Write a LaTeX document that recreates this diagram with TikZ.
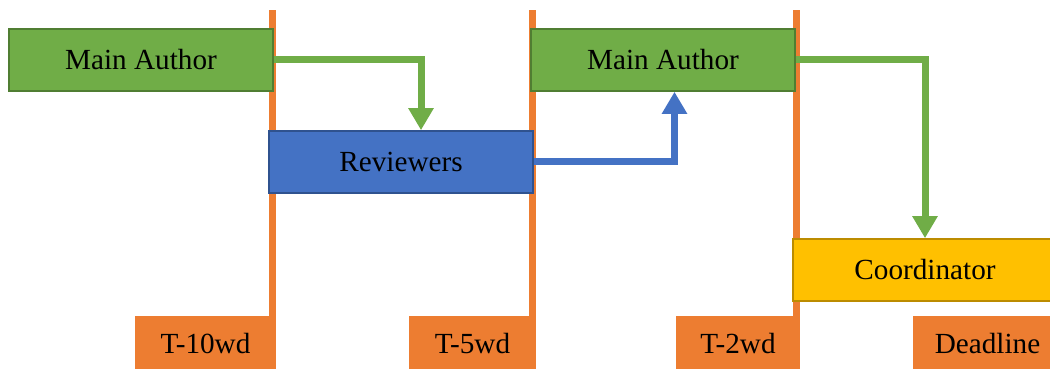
\documentclass[tikz,border=0pt]{standalone}
\usepackage{fontspec}
\setmainfont{Liberation Serif}
\usetikzlibrary{arrows.meta}

\definecolor{mgreen}{HTML}{70AD47}
\definecolor{mgreendark}{HTML}{507E32}
\definecolor{mblue}{HTML}{4472C4}
\definecolor{mbluedark}{HTML}{2F528F}
\definecolor{myellow}{HTML}{FFC000}
\definecolor{myellowdark}{HTML}{BC8C00}
\definecolor{morange}{HTML}{ED7D31}

\tikzset{
  box/.style={rectangle, line width=0.8pt, minimum width=132pt, minimum height=31pt, inner sep=0pt, font=\fontsize{14.6pt}{17pt}\selectfont},
  authorbox/.style={box, fill=mgreen, draw=mgreendark},
  reviewbox/.style={box, fill=mblue, draw=mbluedark},
  coordbox/.style={box, fill=myellow, draw=myellowdark},
  tag/.style={rectangle, fill=morange, minimum height=28pt, inner sep=0pt, font=\fontsize{14.6pt}{17pt}\selectfont},
  timeline/.style={draw=morange, line width=3.5pt},
  flow/.style={line width=3.5pt, -{Triangle[width=12pt,length=11pt]}},
}

\begin{document}
\begin{tikzpicture}[x=0.5pt,y=-0.5pt]
\useasboundingbox (0,0) rectangle (1050,369);

% milestones
\node[tag, minimum width=70.5pt] (t10) at (205.5,344) {T-10wd};
\node[tag, minimum width=63.5pt] (t5) at (472.5,344) {T-5wd};
\node[tag, minimum width=62pt] (t2) at (738,344) {T-2wd};
\node[tag, minimum width=74.5pt] (deadline) at (987.5,344) {Deadline};

\draw[timeline] ([xshift=-1.75pt]t10.north east) -- ++(0,-306);
\draw[timeline] ([xshift=-1.75pt]t5.north east) -- ++(0,-306);
\draw[timeline] ([xshift=-1.75pt]t2.north east) -- ++(0,-306);

% tasks
\node[authorbox] (author1) at (141,60) {Main Author};
\node[reviewbox] (reviewers) at (401,162) {Reviewers};
\node[authorbox] (author2) at (663,60) {Main Author};
\node[coordbox] (coord) at (925,270) {Coordinator};

\draw[flow, mgreen] (author1.east) -| ([xshift=10pt]reviewers.north);
\draw[flow, mblue] (reviewers.east) -| ([xshift=5.75pt]author2.south);
\draw[flow, mgreen] (author2.east) -| (coord.north);

\end{tikzpicture}
\end{document}
